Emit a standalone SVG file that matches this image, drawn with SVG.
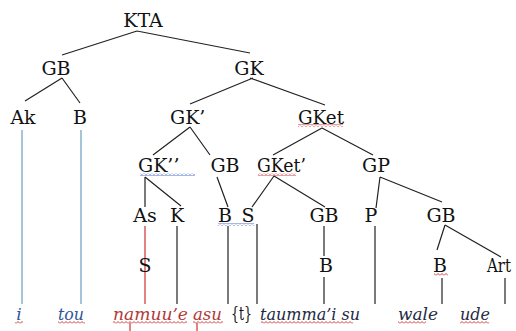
<svg xmlns="http://www.w3.org/2000/svg" width="516" height="331" viewBox="0 0 516 331">
<defs>
<pattern id="wr" patternUnits="userSpaceOnUse" width="4" height="3"><polyline points="0,2.5 2,0.5 4,2.5" fill="none" stroke="#d02828" stroke-width="0.9"/></pattern>
<pattern id="wb" patternUnits="userSpaceOnUse" width="4" height="3"><polyline points="0,2.5 2,0.5 4,2.5" fill="none" stroke="#3a5fc8" stroke-width="0.9"/></pattern>
</defs>
<style>
text{font-family:'DejaVu Serif','Liberation Serif',serif;font-size:19px;fill:#111}
.m{text-anchor:middle}
.it{font-style:italic;fill:#1e2a44;font-size:17px}
.bl{fill:#2f5597}
.rd{fill:#b03a3a}
.e{stroke:#222;stroke-width:1.2;fill:none}
.eb{stroke:#6a9ec4;stroke-width:1.2;fill:none}
.er{stroke:#d03030;stroke-width:1.2;fill:none}
</style>
<rect width="516" height="331" fill="#fff"/>
<g id="connectors">
<path class="e" d="M137,31L62,55M137,31L250,53M62,78L25,101M62,78L80,103M253,78L190,104M250,78L325,105M190,127L153,155M190,127L210,155M322,128L273,155M322,128L373,155M145,177L181,206M217,177L228,207M274,176L252,207M274,176L325,207M380,177L376,208M380,177L442,202M445,225L437,250M445,225L501,257"/>
<path class="e" d="M145,177V207M177,226V304M228,226V304M257,224V304M324,226V256M324,277V304M375,226V304M442,278V304M505,278V304"/>
<path class="eb" d="M22,130V304M81,130V304"/>
<path class="er" d="M145,226V304M130,323V331M197,323V331"/>
</g>
<g id="KTA"><text class="m" x="143" y="27">KTA</text></g>
<g id="GB1"><text class="m" x="56" y="75">GB</text></g>
<g id="GK"><text class="m" x="249" y="75">GK</text></g>
<g id="Ak"><text class="m" x="23" y="124">Ak</text></g>
<g id="B1"><text class="m" x="80" y="124">B</text></g>
<g id="GKp"><text x="170" y="124">GK’</text></g>
<g id="GKet"><text x="298" y="124" textLength="46" lengthAdjust="spacingAndGlyphs">GKet</text><rect x="298" y="124" width="45" height="3" fill="url(#wr)"/></g>
<g id="GKpp"><text x="138" y="172">GK’’</text><rect x="140" y="173" width="55" height="3" fill="url(#wb)"/></g>
<g id="GB2"><text class="m" x="225" y="172">GB</text></g>
<g id="GKetp"><text x="257" y="172" textLength="49" lengthAdjust="spacingAndGlyphs">GKet’</text><rect x="258" y="173" width="38" height="3" fill="url(#wr)"/></g>
<g id="GP"><text class="m" x="376" y="172">GP</text></g>
<g id="As"><text class="m" x="145" y="222">As</text></g>
<g id="K"><text class="m" x="177" y="222">K</text></g>
<g id="B2"><text class="m" x="225" y="222">B</text></g>
<g id="S1"><text class="m" x="248" y="222">S</text><rect x="218" y="223" width="36" height="3" fill="url(#wb)"/></g>
<g id="GB3"><text class="m" x="324" y="222">GB</text></g>
<g id="P"><text class="m" x="371" y="222">P</text></g>
<g id="GB4"><text class="m" x="441" y="222">GB</text></g>
<g id="S2"><text class="m" x="145" y="272">S</text></g>
<g id="B3"><text class="m" x="326" y="272">B</text></g>
<g id="B4"><text class="m" x="440" y="272">B</text><rect x="434" y="273" width="14" height="3" fill="url(#wr)"/></g>
<g id="Art"><text x="487" y="272" textLength="24" lengthAdjust="spacingAndGlyphs">Art</text></g>
<g id="words">
<text class="it bl m" x="19" y="320">i</text><rect x="15" y="321" width="8" height="3" fill="url(#wr)"/>
<text class="it bl" x="58" y="320" textLength="26" lengthAdjust="spacingAndGlyphs">tou</text><rect x="58" y="321" width="27" height="3" fill="url(#wr)"/>
<text class="it rd" x="113" y="320" textLength="75" lengthAdjust="spacingAndGlyphs">namuu’e</text><rect x="113" y="321" width="74" height="3" fill="url(#wr)"/>
<text class="it rd" x="193" y="320" textLength="29" lengthAdjust="spacingAndGlyphs">asu</text><rect x="193" y="321" width="30" height="3" fill="url(#wr)"/>
<text x="231" y="320" font-size="18" textLength="21" lengthAdjust="spacingAndGlyphs">{t}</text>
<text class="it" x="260" y="320" textLength="100" lengthAdjust="spacingAndGlyphs">taumma’i su</text><rect x="261" y="321" width="92" height="3" fill="url(#wr)"/>
<text class="it" x="398" y="320" textLength="40" lengthAdjust="spacingAndGlyphs">wale</text><rect x="398" y="321" width="28" height="3" fill="url(#wr)"/>
<text class="it" x="460" y="320" textLength="30" lengthAdjust="spacingAndGlyphs">ude</text><rect x="460" y="321" width="29" height="3" fill="url(#wr)"/>
</g>
</svg>
